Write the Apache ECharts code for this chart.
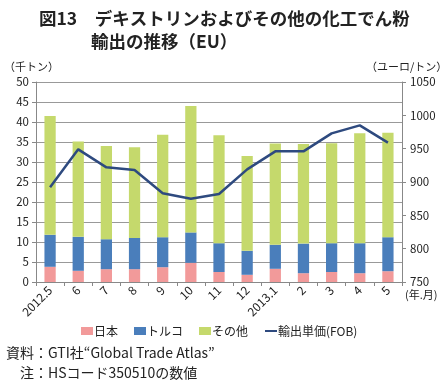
<!DOCTYPE html>
<html><head><meta charset="utf-8">
<script src="https://cdn.jsdelivr.net/npm/echarts@6/dist/echarts.min.js"></script>
<style>html,body{margin:0;padding:0;background:#fff}#c{width:445px;height:387px}</style>
</head><body><div id="c"></div>
<script>
const categories = ['2012.5','6','7','8','9','10','11','12','2013.1','2','3','4','5'];
const japan  = [3.8, 2.8, 3.2, 3.2, 3.7, 4.8, 2.5, 1.8, 3.3, 2.2, 2.5, 2.2, 2.7];
const turkey = [8.0, 8.5, 7.5, 7.8, 7.5, 7.6, 7.2, 6.0, 6.0, 7.4, 7.2, 7.5, 8.5];
const others = [29.7, 23.8, 23.3, 22.7, 25.6, 31.6, 27.0, 23.7, 25.3, 24.9, 25.0, 27.5, 26.1];
const price  = [892, 949, 922, 918, 883, 875, 882, 919, 946, 946, 973, 985, 959];
const leftTicks = [0, 50, 5];
const rightTicks = [750, 1050, 50];

const FONT = '"Noto Sans CJK JP", sans-serif';
const chart = echarts.init(document.getElementById('c'));
chart.setOption({
  animation: false,
  textStyle: {fontFamily: FONT},
  grid: {left: 36, right: 43, top: 82, bottom: 105},
  title: [
    {text: '図13　デキストリンおよびその他の化工でん粉', left: 34, top: 5,
     textStyle: {fontSize: 17.5, fontWeight: 'bold', color: '#222', fontFamily: FONT}},
    {text: '輸出の推移（EU）', left: 86, top: 28,
     textStyle: {fontSize: 17.5, fontWeight: 'bold', color: '#222', fontFamily: FONT}}
  ],
  legend: {
    top: 320, left: 76, itemGap: 16, itemWidth: 12, itemHeight: 8,
    textStyle: {fontSize: 12, color: '#222', fontFamily: FONT, padding: [0, 0, 0, -4]},
    data: [
      {name: '日本', icon: 'rect'},
      {name: 'トルコ', icon: 'rect'},
      {name: 'その他', icon: 'rect'},
      {name: '輸出単価(FOB)', itemStyle: {opacity: 0}}
    ]
  },
  xAxis: {
    type: 'category', data: categories,
    axisLine: {lineStyle: {color: '#888'}},
    axisTick: {show: true, length: 4, lineStyle: {color: '#888'}},
    axisLabel: {rotate: 45, fontSize: 12, color: '#222', margin: 6, fontFamily: FONT}
  },
  yAxis: [
    {type: 'value', min: leftTicks[0], max: leftTicks[1], interval: leftTicks[2],
     axisLine: {show: true, lineStyle: {color: '#888'}},
     axisTick: {show: true, length: 4, lineStyle: {color: '#888'}},
     axisLabel: {fontSize: 11.5, color: '#222', margin: 7},
     splitLine: {lineStyle: {color: '#999'}}},
    {type: 'value', min: rightTicks[0], max: rightTicks[1], interval: rightTicks[2],
     axisLine: {show: true, lineStyle: {color: '#888'}},
     axisTick: {show: true, length: 4, lineStyle: {color: '#888'}},
     axisLabel: {fontSize: 11.5, color: '#222', margin: 8, formatter: v => String(v)},
     splitLine: {show: false}}
  ],
  series: [
    {name: '日本', type: 'bar', stack: 's', data: japan, barWidth: '40%',
     itemStyle: {color: '#F29A9A'}},
    {name: 'トルコ', type: 'bar', stack: 's', data: turkey,
     itemStyle: {color: '#4A7EBB'}},
    {name: 'その他', type: 'bar', stack: 's', data: others,
     itemStyle: {color: '#C5D96C'}},
    {name: '輸出単価(FOB)', type: 'line', yAxisIndex: 1, data: price,
     symbol: 'none', lineStyle: {color: '#2E4A7F', width: 2.5}, itemStyle: {color: '#2E4A7F'}}
  ],
  graphic: [
    {type: 'text', left: 4, top: 61, style: {text: '（千トン）', fontSize: 11, fill: '#222', fontFamily: FONT}},
    {type: 'text', left: 366, top: 61, style: {text: '（ユーロ/トン）', fontSize: 11, fill: '#222', fontFamily: FONT}},
    {type: 'text', left: 405, top: 289, style: {text: '(年.月)', fontSize: 11, fill: '#222', fontFamily: FONT}},
    {type: 'text', left: 6, top: 346, style: {text: '資料：GTI社“Global Trade Atlas”', fontSize: 14, fill: '#222', fontFamily: FONT}},
    {type: 'text', left: 20, top: 366, style: {text: '注：HSコード350510の数値', fontSize: 14, fill: '#222', fontFamily: FONT}}
  ]
});
</script></body></html>
